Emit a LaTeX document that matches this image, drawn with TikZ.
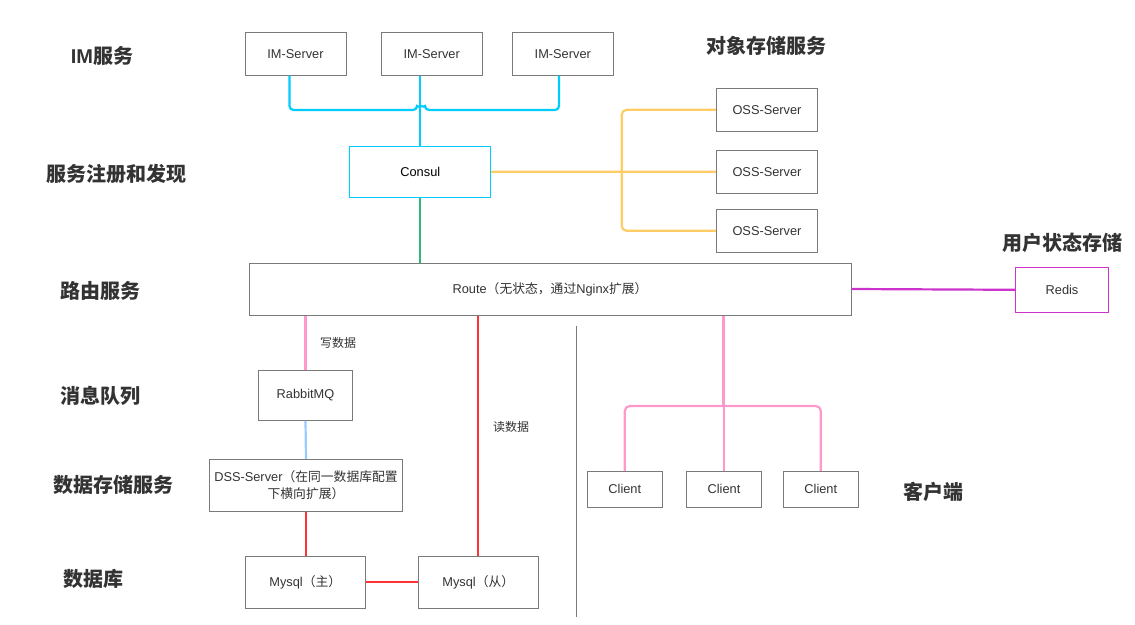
\documentclass[tikz,border=0pt]{standalone}
\usepackage{fontspec}
\setmainfont{Liberation Sans}
\newfontfamily\cjk{Noto Sans CJK SC}
\newcommand{\zh}[1]{{\cjk #1}}
\definecolor{boxgray}{HTML}{7A7A7A}
\definecolor{txt}{HTML}{333333}
\definecolor{cyanl}{HTML}{00CCFF}
\definecolor{orangel}{HTML}{FFCC66}
\definecolor{greenl}{HTML}{2DB87D}
\definecolor{magl}{HTML}{CC33CC}
\definecolor{pinkl}{HTML}{FF99CC}
\definecolor{redl}{HTML}{FF3333}
\definecolor{bluel}{HTML}{99CCFF}
\tikzset{
  box/.style={draw=boxgray, line width=1pt, fill=white, inner sep=0pt, align=center,
    font=\fontsize{12.8}{17}\selectfont, text=txt},
  lbl/.style={font=\fontsize{20}{24}\selectfont\bfseries, text=txt, inner sep=0pt},
  small/.style={font=\fontsize{12}{14}\selectfont, text=txt, inner sep=0pt},
  conn/.style={line width=2.2pt},
}
\begin{document}
\begin{tikzpicture}[x=1pt,y=-1pt]
\useasboundingbox[fill=white] (0,0) rectangle (1135,624);

% section labels
\node[lbl] (l1) at (102,56) {IM\zh{服务}};
\node[lbl] (l2) at (116,174) {\zh{服务注册和发现}};
\node[lbl] (l3) at (100,291) {\zh{路由服务}};
\node[lbl] (l4) at (100,396) {\zh{消息队列}};
\node[lbl] (l5) at (113,485) {\zh{数据存储服务}};
\node[lbl] (l6) at (93,579) {\zh{数据库}};
\node[lbl] (l7) at (766,46) {\zh{对象存储服务}};
\node[lbl] (l8) at (1062,243) {\zh{用户状态存储}};
\node[lbl] (l9) at (933,492) {\zh{客户端}};

% boxes
\node[box, minimum width=101pt, minimum height=43pt] (im1) at (295.5,53.7) {IM-Server};
\node[box, minimum width=101pt, minimum height=43pt] (im2) at (431.7,53.7) {IM-Server};
\node[box, minimum width=101pt, minimum height=43pt] (im3) at (562.8,53.7) {IM-Server};
\node[box, draw=cyanl, text=black, minimum width=140.7pt, minimum height=51.3pt] (consul) at (420.3,171.7) {Consul};
\node[box, minimum width=101.4pt, minimum height=43pt] (oss1) at (767,109.8) {OSS-Server};
\node[box, minimum width=101.4pt, minimum height=43pt] (oss2) at (767,171.8) {OSS-Server};
\node[box, minimum width=101.4pt, minimum height=43pt] (oss3) at (767,230.8) {OSS-Server};
\node[box, minimum width=602pt, minimum height=52pt] (route) at (550,289) {Route\zh{（无状态，通过}Nginx\zh{扩展）}};
\node[box, draw=magl, minimum width=93.4pt, minimum height=45pt] (redis) at (1062,289.8) {Redis};
\node[box, minimum width=94.4pt, minimum height=50pt] (mq) at (305.5,395.3) {RabbitMQ};
\node[box, minimum width=193.4pt, minimum height=52pt] (dss) at (306,485.3) {DSS-Server\zh{（在同一数据库配置}\\\zh{下横向扩展）}};
\node[box, minimum width=120pt, minimum height=52.3pt] (my1) at (305.3,582.2) {Mysql\zh{（主）}};
\node[box, minimum width=120pt, minimum height=52.3pt] (my2) at (478.3,582.2) {Mysql\zh{（从）}};
\node[box, minimum width=75pt, minimum height=36pt] (c1) at (624.8,489.3) {Client};
\node[box, minimum width=75.4pt, minimum height=36pt] (c2) at (724,489.3) {Client};
\node[box, minimum width=75pt, minimum height=36pt] (c3) at (820.8,489.3) {Client};

% coordinates
\coordinate (imbus) at (421,110);
\coordinate (ossbus) at (621.7,171.7);
\coordinate (clbus) at (723.7,406);
\coordinate (sepa) at (576.3,325.7);
\coordinate (sepb) at (576.3,617);

% connectors
\draw[conn, cyanl, rounded corners=4pt] ([xshift=-6pt]im1.south) |- ([xshift=-4pt]imbus)
  arc[start angle=180, end angle=0, radius=4pt] -| ([xshift=-3.8pt]im3.south);
\draw[conn, cyanl] (consul.north) -- (consul.north |- im2.south);
\draw[conn, orangel] (consul.east) -- (oss2.west);
\draw[conn, orangel, rounded corners=5pt] (oss1.west) -| (ossbus) |- (oss3.west);
\draw[conn, greenl] (consul.south) -- (consul.south |- route.north);
\draw[conn, magl] (route.east) -- (redis.west);
\draw[conn, pinkl] (mq.north |- route.south) -- (mq.north);
\node[small] (wr) at (338,343) {\zh{写数据}};
\draw[conn, bluel] (mq.south) -- (dss.north);
\draw[conn, redl] (dss.south) -- (dss.south |- my1.north);
\draw[conn, redl] (my2.north |- route.south) -- (my2.north);
\node[small] (rd) at (511,427) {\zh{读数据}};
\draw[conn, redl] (my1.east) -- (my2.west);
\draw[line width=3.5pt, pinkl] (clbus |- route.south) -- (clbus);
\draw[conn, pinkl, rounded corners=5pt] (c1.north) |- (clbus) -| (c3.north);
\draw[conn, pinkl] (clbus) -- (clbus |- c2.north);
\draw[line width=1pt, boxgray] (sepa) -- (sepb);
\end{tikzpicture}
\end{document}
